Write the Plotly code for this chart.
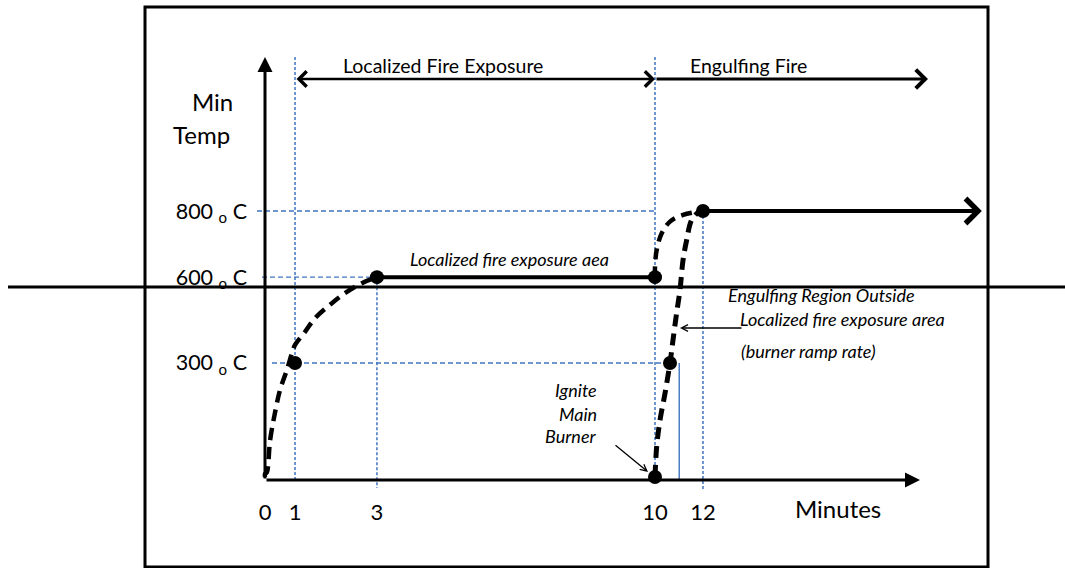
import numpy as np
import plotly.graph_objects as go

# ---------------- data ----------------
minute_ticks = [0, 1, 3, 10, 12]
minute_labels = ["0", "1", "3", "10", "12"]
temp_ticks = [300, 600, 800]
temp_labels = ["300 <sub>o</sub> C", "600 <sub>o</sub> C", "800 <sub>o</sub> C"]

local_ramp_t = [0, 0.0, 0.06, 0.17, 0.33, 0.5, 0.73, 0.9, 1.0, 1.24, 1.49, 1.9, 2.22, 2.63, 3.0]
local_ramp_T = [0, 8, 12, 97, 168, 229, 282, 335, 363, 408, 457, 509, 544, 579, 600]
local_hold_t = [3, 10]
local_hold_T = [600, 600]
engulf_local_t = [10, 10, 10.07, 10.28, 10.625, 11.17, 12]
engulf_local_T = [600, 630, 682, 733, 768, 788, 800]
engulf_outside_t = [10, 10.07, 10.21, 10.42, 10.625, 10.75, 10.9, 11.04, 11.17, 11.32, 11.53, 11.85, 12]
engulf_outside_T = [0, 80, 150, 221, 300, 380, 474, 554, 652, 712, 773, 798, 800]
engulf_hold_t = [12, 19.15]
engulf_hold_T = [800, 800]
key_t = [1, 3, 10, 10, 10.625, 12]
key_T = [300, 600, 600, 0, 300, 800]
ramp_marker_t = 11.01
ramp_marker_T = 300

# ---------------- schematic scale (drawing is not to scale) ----------------
W, H = 1065, 568
X0_PX, X_PX_PER_U = 265, 39.0
Y0_PX, Y_PX_PER_U = 477, 0.3325
x_tick_pos = [0, 0.77, 2.87, 10, 11.23]
temp_anchor = [0, 300, 600, 800]
y_anchor_pos = [0, 343, 601, 800]


def to_x(t):
    t = np.asarray(t, float)
    p = np.interp(t, minute_ticks, x_tick_pos)
    p = np.where(t > minute_ticks[-1], x_tick_pos[-1] + (t - minute_ticks[-1]), p)
    return p


def to_y(T):
    T = np.asarray(T, float)
    p = np.interp(T, temp_anchor, y_anchor_pos)
    p = np.where(T > temp_anchor[-1], y_anchor_pos[-1] + (T - temp_anchor[-1]), p)
    p = np.where(T < 0, T, p)
    return p


def px2ux(px):
    return (px - X0_PX) / X_PX_PER_U


def px2uy(py):
    return (Y0_PX - py) / Y_PX_PER_U


def pxx(px):
    return px / W


def pxy(py):
    return 1 - py / H


BLUE = "#3F74C0"
FONT = "Lato"

fig = go.Figure()


def vguide(t, y_top, y_bot, dash):
    x = float(to_x(t))
    fig.add_trace(go.Scatter(x=[x, x], y=[y_top, y_bot], mode="lines",
                             line=dict(color=BLUE, width=1.5, dash=dash),
                             hoverinfo="skip", showlegend=False))


def hguide(T, x_left, t_right):
    y = float(to_y(T))
    fig.add_trace(go.Scatter(x=[x_left, float(to_x(t_right))], y=[y, y], mode="lines",
                             line=dict(color=BLUE, width=1.4, dash="5px,3px"),
                             hoverinfo="skip", showlegend=False))


vguide(1, px2uy(57), px2uy(481), "3px,2px")
vguide(3, float(to_y(600)), px2uy(488), "3px,2px")
vguide(10, px2uy(57), px2uy(481), "3px,2px")
vguide(12, float(to_y(800)), px2uy(491), "3px,2px")
hguide(800, px2ux(257), 10)
hguide(600, px2ux(262), 3)
hguide(300, px2ux(272), 10.625)

# solid blue marker of burner ramp
rx = float(to_x(ramp_marker_t))
fig.add_trace(go.Scatter(x=[rx, rx], y=[float(to_y(ramp_marker_T)), px2uy(480)], mode="lines",
                         line=dict(color=BLUE, width=1.4), hoverinfo="skip", showlegend=False))

# dashed ramps
fig.add_trace(go.Scatter(x=to_x(local_ramp_t), y=to_y(local_ramp_T), mode="lines",
                         line=dict(color="black", width=4.5, dash="12px,7px", shape="spline"),
                         hoverinfo="skip", showlegend=False))
fig.add_trace(go.Scatter(x=to_x(engulf_local_t), y=to_y(engulf_local_T), mode="lines",
                         line=dict(color="black", width=4.5, dash="11px,7px", shape="spline"),
                         hoverinfo="skip", showlegend=False))
fig.add_trace(go.Scatter(x=to_x(engulf_outside_t), y=to_y(engulf_outside_T), mode="lines",
                         line=dict(color="black", width=5, dash="12px,7px", shape="spline"),
                         hoverinfo="skip", showlegend=False))

# localized hold
fig.add_trace(go.Scatter(x=to_x(local_hold_t), y=to_y(local_hold_T), mode="lines",
                         line=dict(color="black", width=4), hoverinfo="skip", showlegend=False))

# key points
fig.add_trace(go.Scatter(x=to_x(key_t), y=to_y(key_T), mode="markers",
                         marker=dict(color="black", size=14), hoverinfo="skip", showlegend=False))

annotations = []


def arrow(x_head, y_head, x_tail, y_tail, width, head=2, side="end", size=1.0):
    annotations.append(dict(x=x_head, y=y_head, ax=x_tail, ay=y_tail, xref="x", yref="y",
                            axref="x", ayref="y", text="", showarrow=True, arrowhead=head,
                            startarrowhead=head, arrowside=side, arrowwidth=width,
                            arrowsize=size, startarrowsize=size, arrowcolor="black"))


# axes
ax_y = px2uy(480)
arrow(0, px2uy(57), 0, ax_y, 3, head=2, size=1.0)
arrow(px2ux(920), ax_y, 0, ax_y, 3, head=2, size=1.0)

# engulfing hold with arrow
hx = to_x(engulf_hold_t)
hy = to_y(engulf_hold_T)
arrow(float(hx[1]), float(hy[1]), float(hx[0]), float(hy[0]), 4, head=4, size=1.2)

# top phase arrows
top_y = px2uy(79)
arrow(float(to_x(10)), top_y, float(to_x(1)), top_y, 2.5, head=4, side="end+start", size=1.2)
arrow(px2ux(928), top_y, float(to_x(10)), top_y, 3, head=4, size=1.2)


def text(s, px, py, size, xanchor="center", italic=False):
    annotations.append(dict(x=pxx(px), y=pxy(py), xref="paper", yref="paper",
                            text=f"<i>{s}</i>" if italic else s, showarrow=False,
                            xanchor=xanchor, yanchor="middle",
                            font=dict(family=FONT, size=size, color="black")))


text("Min", 212, 101, 24)
text("Temp", 201, 135, 24)
text("Localized Fire Exposure", 443, 65, 19.5)
text("Engulfing Fire", 748, 65, 19.5)
text("Minutes", 838, 508, 24)
text("Localized fire exposure aea", 509, 259, 18, italic=True)
text("Engulfing Region Outside", 821, 295, 18, italic=True)
text("Localized fire exposure area", 843, 319, 18, italic=True)
text("(burner ramp rate)", 739, 351, 18, xanchor="left", italic=True)
text("Ignite", 599, 390, 18, xanchor="right", italic=True)
text("Main", 599, 414, 18, xanchor="right", italic=True)
text("Burner", 599, 436, 18, xanchor="right", italic=True)

# pointer arrows
annotations.append(dict(x=pxx(680), y=pxy(328), xref="paper", yref="paper", ax=63, ay=0,
                        text="", showarrow=True, arrowhead=5, arrowwidth=1.3, arrowcolor="black"))
annotations.append(dict(x=pxx(648), y=pxy(472), xref="paper", yref="paper", ax=-34, ay=-28,
                        text="", showarrow=True, arrowhead=5, arrowwidth=1.3, arrowcolor="black"))

shapes = [
    dict(type="rect", xref="paper", yref="paper", x0=pxx(145), x1=pxx(988), y0=pxy(567), y1=pxy(7),
         line=dict(color="black", width=3)),
    dict(type="line", xref="paper", yref="paper", x0=pxx(8), x1=1, y0=pxy(287), y1=pxy(287),
         line=dict(color="black", width=3)),
]

fig.update_layout(
    width=W, height=H, autosize=False,
    margin=dict(l=0, r=0, t=0, b=0),
    paper_bgcolor="white", plot_bgcolor="white",
    showlegend=False,
    annotations=annotations, shapes=shapes,
    xaxis=dict(range=[px2ux(0), px2ux(W)], showgrid=False, zeroline=False, showline=False,
               tickvals=x_tick_pos, ticktext=minute_labels, ticks="", ticklabelstandoff=17,
               anchor="free", position=pxy(480), fixedrange=True,
               tickfont=dict(family=FONT, size=22, color="black")),
    yaxis=dict(range=[px2uy(H), px2uy(0)], showgrid=False, zeroline=False, showline=False,
               tickvals=[float(v) for v in to_y(temp_ticks)], ticktext=temp_labels, ticks="",
               ticklabelstandoff=18, anchor="free", position=pxx(265), fixedrange=True,
               tickfont=dict(family=FONT, size=21.5, color="black")),
)

fig.write_html("out.html", config={"displayModeBar": False},
               post_script="document.body.style.margin='0';document.body.style.overflow='hidden';")
